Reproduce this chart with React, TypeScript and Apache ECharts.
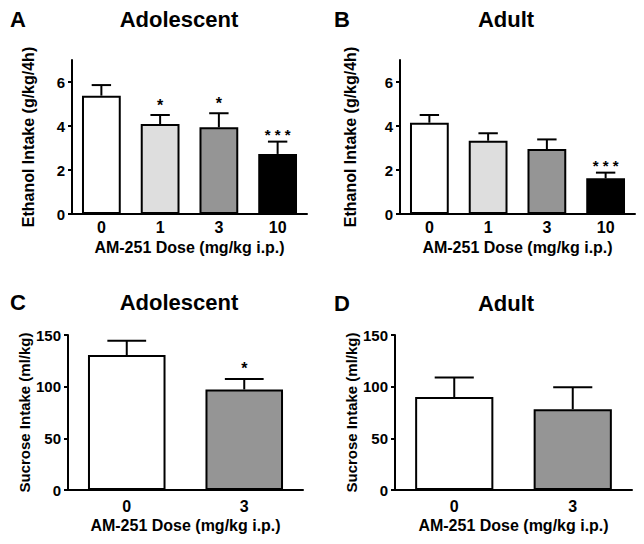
import React, { useEffect, useRef } from "react";
import * as echarts from "echarts";

const FONT = "'Liberation Sans', Arial, Helvetica, sans-serif";

// Panels A/B: ethanol intake
const ethanolDoses = ["0", "1", "3", "10"];
const adolEthanolMean = [5.38, 4.09, 3.94, 2.73];
const adolEthanolSem = [0.48, 0.41, 0.64, 0.56];
const adolEthanolSig = ["", "*", "*", "* * *"];
const adultEthanolMean = [4.15, 3.33, 2.95, 1.62];
const adultEthanolSem = [0.35, 0.34, 0.44, 0.26];
const adultEthanolSig = ["", "", "", "* * *"];
const ethanolTicks = [0, 2, 4, 6];

// Panels C/D: sucrose intake
const sucroseDoses = ["0", "3"];
const adolSucroseMean = [130.6, 97.3];
const adolSucroseSem = [13.9, 10.2];
const adolSucroseSig = ["", "*"];
const adultSucroseMean = [89.9, 78.2];
const adultSucroseSem = [19.0, 21.3];
const adultSucroseSig = ["", ""];

const ethanolColors = ["#ffffff", "#dedede", "#959595", "#000000"];
const sucroseColors = ["#ffffff", "#959595"];

const grids = [
  { left: 72, top: 60, width: 235, height: 154 },
  { left: 400, top: 60, width: 235, height: 154 },
  { left: 68, top: 335, width: 235, height: 155 },
  { left: 395, top: 335, width: 237, height: 155 },
];

function buildPanel(
  gi: number,
  means: number[],
  sems: number[],
  sig: string[],
  colors: string[]
) {
  const bar = {
    type: "bar",
    xAxisIndex: gi,
    yAxisIndex: gi,
    barWidth: "66%",
    z: 2,
    data: means.map((v, i) => ({
      value: v,
      itemStyle: { color: colors[i], borderColor: "#000", borderWidth: 2 },
    })),
  };
  const err = {
    type: "custom",
    xAxisIndex: gi,
    yAxisIndex: gi,
    z: 3,
    data: means.map((v, i) => [i, v, v + sems[i]]),
    renderItem: (params: any, api: any) => {
      const idx = api.value(0);
      const p0 = api.coord([idx, api.value(1)]);
      const p1 = api.coord([idx, api.value(2)]);
      const band = api.size([1, 0])[0];
      const half = (band * 0.66) / 4;
      const s = sig[params.dataIndex];
      const children: any[] = [
        {
          type: "line",
          shape: { x1: p0[0], y1: p0[1], x2: p1[0], y2: p1[1] },
          style: { stroke: "#000", lineWidth: 2 },
        },
        {
          type: "line",
          shape: { x1: p1[0] - half, y1: p1[1], x2: p1[0] + half, y2: p1[1] },
          style: { stroke: "#000", lineWidth: 2 },
        },
      ];
      if (s) {
        const triple = s.length > 1;
        children.push({
          type: "text",
          x: p1[0],
          y: p1[1] - (triple ? 7 : 10),
          style: {
            text: s,
            fill: "#000",
            fontSize: triple ? 15 : 16,
            fontWeight: "bold",
            fontFamily: FONT,
            align: "center",
            verticalAlign: "middle",
          },
        });
      }
      return { type: "group", children };
    },
  };
  return [bar, err];
}

export default function App() {
  const ref = useRef<HTMLDivElement>(null);
  useEffect(() => {
    if (!ref.current) return;
    const chart = echarts.init(ref.current, null, { renderer: "svg" });
    const axisText = { color: "#000", fontWeight: "bold", fontSize: 15, fontFamily: FONT };
    const xAxis = [0, 1, 2, 3].map((gi) => ({
      type: "category",
      gridIndex: gi,
      data: gi < 2 ? ethanolDoses : sucroseDoses,
      axisLine: { lineStyle: { color: "#000", width: 2 } },
      axisTick: { show: false },
      axisLabel: { ...axisText, fontSize: 16, margin: gi < 2 ? 5 : 8 },
      name: "AM-251 Dose (mg/kg i.p.)",
      nameLocation: "middle",
      nameGap: gi < 2 ? 25 : 27,
      nameTextStyle: { ...axisText, fontSize: 16 },
    }));
    const yAxis = [0, 1, 2, 3].map((gi) => {
      const eth = gi < 2;
      return {
        type: "value",
        gridIndex: gi,
        min: 0,
        max: eth ? 7 : 150,
        interval: eth ? 1 : 50,
        splitLine: { show: false },
        axisLine: { show: true, lineStyle: { color: "#000", width: 2 } },
        axisTick: {
          show: true,
          length: 4,
          lineStyle: { color: "#000", width: 2 },
          ...(eth ? { customValues: ethanolTicks } : {}),
        },
        axisLabel: {
          ...axisText,
          margin: 7,
          ...(eth ? { customValues: ethanolTicks } : {}),
        },
        name: eth ? "Ethanol Intake (g/kg/4h)" : "Sucrose Intake (ml/kg)",
        nameLocation: "middle",
        nameGap: [36, 42, 34, 34][gi],
        nameTextStyle: { ...axisText, fontSize: eth ? 16 : 15 },
      };
    });
    const titleStyle = (t: string, x: number, y: number, align: string) => ({
      type: "text",
      x,
      y,
      style: {
        text: t,
        fill: "#000",
        fontSize: 22,
        fontWeight: "bold",
        fontFamily: FONT,
        align,
        verticalAlign: "middle",
      },
    });
    chart.setOption({
      animation: false,
      backgroundColor: "#ffffff",
      grid: grids.map((g) => ({ ...g, containLabel: false })),
      xAxis,
      yAxis,
      series: [
        ...buildPanel(0, adolEthanolMean, adolEthanolSem, adolEthanolSig, ethanolColors),
        ...buildPanel(1, adultEthanolMean, adultEthanolSem, adultEthanolSig, ethanolColors),
        ...buildPanel(2, adolSucroseMean, adolSucroseSem, adolSucroseSig, sucroseColors),
        ...buildPanel(3, adultSucroseMean, adultSucroseSem, adultSucroseSig, sucroseColors),
      ],
      graphic: [
        titleStyle("A", 10, 19, "left"),
        titleStyle("Adolescent", 179, 19, "center"),
        titleStyle("B", 334, 19, "left"),
        titleStyle("Adult", 506, 19, "center"),
        titleStyle("C", 10, 302, "left"),
        titleStyle("Adolescent", 179, 302, "center"),
        titleStyle("D", 334, 303, "left"),
        titleStyle("Adult", 506, 303, "center"),
      ],
    });
    return () => chart.dispose();
  }, []);
  return (
    <div
      ref={ref}
      style={{ position: "absolute", left: 0, top: 0, width: 644, height: 544 }}
    />
  );
}
